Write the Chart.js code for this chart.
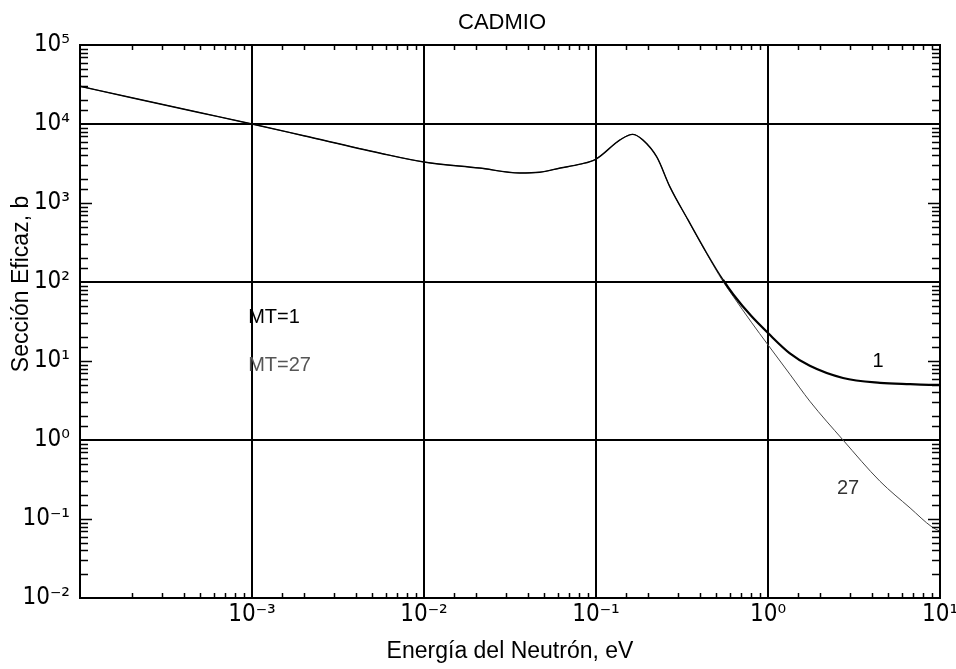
<!DOCTYPE html>
<html>
<head>
<meta charset="utf-8">
<script src="https://cdn.jsdelivr.net/npm/chart.js@4"></script>
<style>
  html, body { margin: 0; padding: 0; background: #fff; }
</style>
</head>
<body>
<canvas id="myChart" width="956" height="669"></canvas>
<script>
/* Datos (energia en eV, seccion eficaz en barns) */
const energia = [1e-4, 2e-4, 5e-4, 1e-3, 2e-3, 5.5e-3, 1e-2, 2.1e-2, 3.6e-2, 4.7e-2, 6.2e-2, 8.1e-2,
  0.1, 0.138, 0.163, 0.187, 0.226, 0.269, 0.343, 0.44, 0.547, 0.63, 0.8,
  1.0, 1.34, 1.75, 2.73, 4.48, 6.7, 9, 10];
const seccionMT1 = [30000, 21500, 13900, 10000, 7100, 4300, 3300, 2770, 2400, 2450, 2770, 3100,
  3600, 6300, 7400, 6300, 3800, 1600, 610, 233, 107, 69, 37,
  22.6, 12.5, 8.7, 6.1, 5.3, 5.1, 5.0, 5.0];
const seccionMT27 = [30000, 21500, 13900, 10000, 7100, 4300, 3300, 2770, 2400, 2450, 2770, 3100,
  3600, 6300, 7400, 6300, 3800, 1600, 605, 228, 102, 65, 31,
  16, 6.8, 3.1, 1.0, 0.3, 0.138, 0.079, 0.07];

const decadasX = [-3, -2, -1, 0, 1];          // etiquetas eje x
const decadasY = [-2, -1, 0, 1, 2, 3, 4, 5];  // etiquetas eje y
const rejillaX = [-3, -2, -1, 0];
const rejillaY = [0, 2, 4];

const fuenteNum = "'DejaVu Sans Condensed', 'DejaVu Sans', sans-serif";
const fuente = "'Liberation Sans', Arial, sans-serif";
const sup = { '-': '\u207B', '0': '\u2070', '1': '\u00B9', '2': '\u00B2', '3': '\u00B3', '4': '\u2074', '5': '\u2075' };

function exponente(v) {
  const e = Math.log10(v);
  const r = Math.round(e);
  return Math.abs(e - r) < 1e-6 ? r : null;
}
function potencia(n) {
  return '10' + String(n).split('').map(c => sup[c]).join('');
}

// marcas menores hacia dentro, marco, titulos y rotulos
const marcos = {
  id: 'marcos',
  afterDraw(chart) {
    const ctx = chart.ctx;
    const a = chart.chartArea;
    const sx = chart.scales.x, sy = chart.scales.y;
    ctx.save();
    ctx.strokeStyle = '#000';
    ctx.lineWidth = 1.5;
    ctx.beginPath();
    sx.ticks.forEach(t => {
      if (exponente(t.value) !== null) return;
      const px = Math.round(sx.getPixelForValue(t.value)) + 0.5;
      ctx.moveTo(px, a.bottom); ctx.lineTo(px, a.bottom - 5);
      ctx.moveTo(px, a.top); ctx.lineTo(px, a.top + 5);
    });
    sy.ticks.forEach(t => {
      const e = exponente(t.value);
      if (e !== null && (rejillaY.includes(e) || t.value <= sy.min || t.value >= sy.max)) return;
      const len = e !== null ? 12 : 8;
      const py = Math.round(sy.getPixelForValue(t.value)) + 0.5;
      ctx.moveTo(a.left, py); ctx.lineTo(a.left + len, py);
      ctx.moveTo(a.right, py); ctx.lineTo(a.right - len, py);
    });
    ctx.stroke();
    ctx.lineWidth = 2;
    ctx.strokeRect(a.left, a.top, a.right - a.left, a.bottom - a.top);

    ctx.fillStyle = '#000';
    ctx.textBaseline = 'middle';
    ctx.textAlign = 'center';
    ctx.font = '22px ' + fuente;
    ctx.fillText('CADMIO', 502, 23);

    ctx.save();
    ctx.translate(22, 284);
    ctx.rotate(-Math.PI / 2);
    ctx.font = '23px ' + fuente;
    ctx.fillText('Sección Eficaz, b', 0, 0);
    ctx.restore();

    ctx.font = '20px ' + fuente;
    ctx.textAlign = 'left';
    ctx.fillText('MT=1', sx.getPixelForValue(9.5e-4), sy.getPixelForValue(36));
    ctx.fillStyle = '#555';
    ctx.fillText('MT=27', sx.getPixelForValue(9.5e-4), sy.getPixelForValue(8.9));
    ctx.textAlign = 'center';
    ctx.fillStyle = '#000';
    ctx.fillText('1', sx.getPixelForValue(4.37), sy.getPixelForValue(10));
    ctx.fillStyle = '#333';
    ctx.fillText('27', sx.getPixelForValue(2.92), sy.getPixelForValue(0.245));
    ctx.restore();
  }
};

const ctx = document.getElementById('myChart').getContext('2d');
const chart = new Chart(ctx, {
  type: 'line',
  data: {
    datasets: [{
      label: 'MT=1',
      data: energia.map((e, i) => ({ x: e, y: seccionMT1[i] })),
      borderColor: '#000',
      borderWidth: 2.2,
      segment: { borderWidth: c => c.p0.parsed.x < 0.5 ? 1.4 : 2.2 },
      pointRadius: 0,
      cubicInterpolationMode: 'monotone'
    }, {
      label: 'MT=27',
      data: energia.map((e, i) => ({ x: e, y: seccionMT27[i] })),
      borderColor: '#444',
      borderWidth: 1,
      pointRadius: 0,
      cubicInterpolationMode: 'monotone'
    }]
  },
  options: {
    responsive: false,
    animation: false,
    layout: { padding: { left: 0, right: 16, top: 45, bottom: 0 } },
    plugins: {
      legend: { display: false },
      tooltip: { enabled: false },
      title: { display: false }
    },
    scales: {
      x: {
        type: 'logarithmic',
        min: 1e-4,
        max: 10,
        afterFit: s => { s.height = 71; s.paddingRight = 0; s.paddingLeft = 0; },
        border: { display: false },
        grid: {
          drawTicks: false,
          lineWidth: 2,
          color: c => rejillaX.includes(exponente(c.tick.value)) ? '#000' : 'rgba(0,0,0,0)'
        },
        ticks: {
          autoSkip: false,
          maxRotation: 0,
          minRotation: 0,
          padding: 2,
          color: '#000',
          font: { family: fuenteNum, size: 24 },
          callback: v => decadasX.includes(exponente(v)) ? potencia(exponente(v)) : ''
        },
        title: {
          display: true,
          text: 'Energía del Neutrón, eV',
          color: '#000',
          font: { family: fuente, size: 23 },
          padding: { bottom: 4 }
        }
      },
      y: {
        type: 'logarithmic',
        min: 1e-2,
        max: 1e5,
        afterFit: s => { s.width = 80; s.paddingTop = 0; s.paddingBottom = 0; },
        border: { display: false },
        grid: {
          drawTicks: false,
          lineWidth: 2,
          color: c => rejillaY.includes(exponente(c.tick.value)) ? '#000' : 'rgba(0,0,0,0)'
        },
        ticks: {
          autoSkip: false,
          padding: 10,
          color: '#000',
          font: { family: fuenteNum, size: 24 },
          callback: v => decadasY.includes(exponente(v)) ? potencia(exponente(v)) : ''
        }
      }
    }
  },
  plugins: [marcos]
});
</script>
</body>
</html>
